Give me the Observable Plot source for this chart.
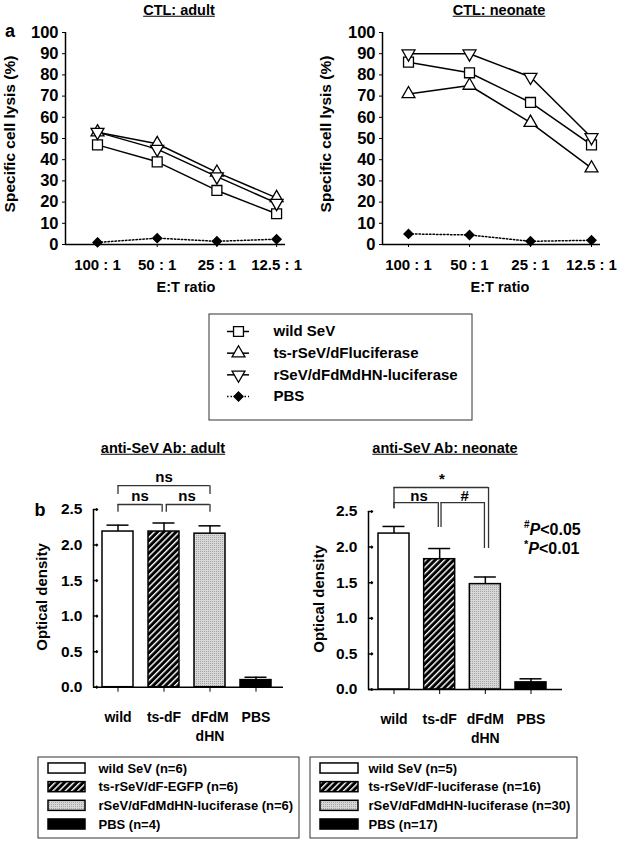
<!DOCTYPE html>
<html><head><meta charset="utf-8">
<script src="https://cdn.jsdelivr.net/npm/d3@7"></script>
<script src="https://cdn.jsdelivr.net/npm/@observablehq/plot@0.6"></script>
<style>
body{margin:0;background:#fff;}
#page{position:relative;width:625px;height:841px;overflow:hidden;font-family:"Liberation Sans",Arial,Helvetica,sans-serif;font-weight:bold;color:#000;background:#fff;}
#page svg{max-width:none;}
</style></head><body>
<svg width="0" height="0" style="position:absolute"><defs>
<pattern id="hatch" width="4.4" height="4.4" patternUnits="userSpaceOnUse" patternTransform="rotate(45)"><rect width="4.4" height="4.4" fill="#000"/><rect width="1.4" height="4.4" fill="#fff"/></pattern>
<pattern id="dots" width="2" height="2" patternUnits="userSpaceOnUse"><rect width="2" height="2" fill="#d8d8d8"/><rect width="1" height="1" fill="#a4a4a4"/></pattern>
</defs></svg>
<div id="page"></div>
<script>
// ---------- data ----------
const ratios = ["100 : 1", "50 : 1", "25 : 1", "12.5 : 1"];
const ctlSeries = ["wild SeV", "ts-rSeV/dFluciferase", "rSeV/dFdMdHN-luciferase", "PBS"];
const ctlTicks = [0, 10, 20, 30, 40, 50, 60, 70, 80, 90, 100];
const adultWild = [47, 39, 25.5, 14.5];
const adultTs = [53, 47.5, 34, 22];
const adultDfdm = [53, 45, 32, 19.5];
const adultPbs = [1, 3, 1.5, 2.5];
const neoWild = [86, 81, 67, 47];
const neoTs = [71, 75, 57.5, 36];
const neoDfdm = [90, 90, 79, 50.5];
const neoPbs = [5, 4.5, 1.5, 2];

const abGroups = ["wild", "ts-dF", "dFdM\ndHN", "PBS"];
const odTicks = [0, 0.5, 1, 1.5, 2, 2.5];
const adultOD = [2.19, 2.19, 2.16, 0.10];
const adultSEM = [0.09, 0.12, 0.11, 0.04];
const neoOD = [2.19, 1.83, 1.48, 0.10];
const neoSEM = [0.10, 0.15, 0.10, 0.05];
const adultLegend = ["wild SeV (n=6)", "ts-rSeV/dF-EGFP (n=6)", "rSeV/dFdMdHN-luciferase (n=6)", "PBS (n=4)"];
const neoLegend = ["wild SeV (n=5)", "ts-rSeV/dF-luciferase (n=16)", "rSeV/dFdMdHN-luciferase (n=30)", "PBS (n=17)"];
// significance brackets (group index span, heights in OD units)
const adultBrackets = [
  {a: 0, b: 2, y: 2.835, da: 2.71, db: 2.71, label: "ns", lx: 1, ly: 2.95},
  {a: 0, b: 0.96, y: 2.57, da: 2.46, db: 2.46, label: "ns", lx: 0.48, ly: 2.69},
  {a: 1.05, b: 2, y: 2.57, da: 2.46, db: 2.46, label: "ns", lx: 1.5, ly: 2.69}
];
const neoBrackets = [
  {a: 0, b: 2.07, y: 2.837, da: 2.54, db: 1.98, label: "*", lx: 1.05, ly: 2.95},
  {a: 0, b: 0.97, y: 2.626, da: 2.54, db: 2.275, label: "ns", lx: 0.55, ly: 2.71},
  {a: 1.03, b: 1.98, y: 2.626, da: 2.275, db: 1.98, label: "#", lx: 1.55, ly: 2.71}
];

// ---------- styles ----------
const FONT = '"Liberation Sans", Arial, Helvetica, sans-serif';
const sqrt3 = Math.sqrt(3);
const triangleDown = {draw(c, size) {
  const y = -Math.sqrt(size / (sqrt3 * 3));
  c.moveTo(0, -y * 2); c.lineTo(-sqrt3 * y, y); c.lineTo(sqrt3 * y, y); c.closePath();
}};
const symbols = ["square", "triangle", triangleDown, "diamond2"];
const symR = [5.6, 4.8, 4.8, 4.1];
const symFill = ["white", "white", "white", "black"];
const barFills = ["white", "url(#hatch)", "url(#dots)", "black"];

const page = document.getElementById("page");
function place(el, L, T) {
  el.style.position = "absolute"; el.style.left = L + "px"; el.style.top = T + "px";
  page.appendChild(el);
}
function txt(html, x, y, o = {}) {
  const d = document.createElement("div");
  d.innerHTML = html;
  const tx = o.start ? "0" : "-50%";
  d.style.cssText = `position:absolute;left:${x}px;top:${y}px;transform:translate(${tx},-50%)${o.rotate ? " rotate(-90deg)" : ""};font-size:${o.size || 15}px;white-space:nowrap;line-height:1;${o.underline ? "text-decoration:underline;" : ""}`;
  page.appendChild(d);
}
const baseStyle = (size) => ({fontFamily: FONT, fontWeight: "bold", fontSize: size + "px", color: "black", background: "transparent", overflow: "visible"});

// ---------- CTL panels ----------
function ctlPanel(L, frameL, frameR, x0, step, seriesValues) {
  const W = frameR - L + 25;
  const dom = [(frameL - x0) / step, (frameR - x0) / step];
  const rows = seriesValues.flatMap((vals, k) => vals.map((v, i) => ({k, i, v})));
  const plot = Plot.plot({
    width: W, height: 300,
    marginLeft: frameL - L, marginRight: W - (frameR - L), marginTop: 32, marginBottom: 56,
    x: {domain: dom, axis: null}, y: {domain: [0, 100], axis: null},
    style: baseStyle(15),
    marks: [
      Plot.axisY({ticks: ctlTicks, tickSize: 3, tickPadding: 4, tickFormat: d => String(d), label: null, fontSize: 16.5}),
      Plot.axisX({ticks: d3.range(ratios.length), tickSize: 3, tickPadding: 12, tickFormat: i => ratios[i], label: null, fontSize: 15}),
      Plot.ruleX([dom[0]], {strokeWidth: 1.5}),
      Plot.ruleY([0], {strokeWidth: 1.5}),
      Plot.line(rows.filter(d => d.k < 3), {x: "i", y: "v", z: "k", stroke: "black", strokeWidth: 1.5}),
      Plot.line(rows.filter(d => d.k === 3), {x: "i", y: "v", stroke: "black", strokeWidth: 1.5, strokeDasharray: "1.5,2"}),
      ...[3, 0, 1, 2].map(k => Plot.dot(rows.filter(d => d.k === k), {x: "i", y: "v", symbol: symbols[k], r: symR[k], fill: symFill[k], stroke: "black", strokeWidth: 1.3}))
    ]
  });
  place(plot, L, 0);
}
ctlPanel(0, 65, 285, 97, 59.7, [adultWild, adultTs, adultDfdm, adultPbs]);
ctlPanel(312, 382, 600, 408, 61, [neoWild, neoTs, neoDfdm, neoPbs]);

txt("CTL: adult", 179, 10, {size: 14.5, underline: true});
txt("CTL: neonate", 499, 10, {size: 14.5, underline: true});
txt("a", 10, 31, {size: 18});
txt("Specific cell lysis (%)", 10, 134, {size: 15.5, rotate: true});
txt("Specific cell lysis (%)", 326, 134, {size: 15.5, rotate: true});
txt("E:T ratio", 186, 287, {size: 14.5});
txt("E:T ratio", 500, 287, {size: 14.5});

// CTL legend
(function () {
  const W = 264, H = 107;
  const rows = ctlSeries.map((name, k) => ({k, name}));
  const plot = Plot.plot({
    width: W, height: H, margin: 0,
    x: {domain: [0, W], axis: null}, y: {domain: [0, 3], range: [18, 83], axis: null},
    style: baseStyle(15),
    marks: [
      Plot.frame({inset: 0.5, stroke: "#333"}),
      Plot.ruleY(rows.filter(d => d.k < 3), {y: "k", x1: 19, x2: 41, strokeWidth: 1.5}),
      Plot.ruleY(rows.filter(d => d.k === 3), {y: "k", x1: 19, x2: 41, strokeWidth: 1.5, strokeDasharray: "1.5,2"}),
      ...[0, 1, 2, 3].map(k => Plot.dot(rows.filter(d => d.k === k), {x: 30, y: "k", symbol: symbols[k], r: symR[k], fill: symFill[k], stroke: "black", strokeWidth: 1.3})),
      Plot.text(rows, {x: 65, y: "k", text: "name", textAnchor: "start", fontSize: 15})
    ]
  });
  place(plot, 208, 313);
})();

// ---------- OD panels ----------
function odPanel(L, T, frameL, frameR, yTop, yZero, x0, step, means, sems, brackets) {
  const W = frameR - L + 20, H = 290;
  const dom = [(frameL - x0) / step, (frameR - x0) / step];
  const hw = 15.5 / step, cap = 11 / step;
  const rows = means.map((v, i) => ({i, v, e: sems[i]}));
  const plot = Plot.plot({
    width: W, height: H,
    marginLeft: frameL - L, marginRight: W - (frameR - L), marginTop: yTop - T, marginBottom: T + H - yZero,
    x: {domain: dom, axis: null}, y: {domain: [0, 2.5], axis: null},
    style: baseStyle(15),
    marks: [
      Plot.axisY({ticks: odTicks, tickSize: 0, tickPadding: 11, tickFormat: d3.format(".1f"), label: null, fontSize: 15.5}),
      Plot.vector(odTicks, {x: dom[0], y: d => d, length: 4, rotate: 90, anchor: "start", strokeWidth: 1.5}),
      Plot.axisX({ticks: d3.range(abGroups.length), tickSize: 5, tickPadding: 16, tickFormat: i => abGroups[i], label: null, fontSize: 14, lineHeight: 1.36}),
      ...rows.map((r, i) => Plot.rect([r], {x1: d => d.i - hw, x2: d => d.i + hw, y1: 0, y2: "v", fill: barFills[i], stroke: "black", strokeWidth: 1.5})),
      Plot.ruleX(rows, {x: "i", y1: "v", y2: d => d.v + d.e, strokeWidth: 1.5}),
      Plot.ruleY(rows, {y: d => d.v + d.e, x1: d => d.i - cap, x2: d => d.i + cap, strokeWidth: 1.5}),
      Plot.ruleX([dom[0]], {strokeWidth: 1.5}),
      Plot.ruleY([0], {strokeWidth: 1.5}),
      Plot.ruleY(brackets, {y: "y", x1: "a", x2: "b", stroke: "#333", strokeWidth: 1.3}),
      Plot.ruleX(brackets, {x: "a", y1: "da", y2: "y", stroke: "#333", strokeWidth: 1.3}),
      Plot.ruleX(brackets, {x: "b", y1: "db", y2: "y", stroke: "#333", strokeWidth: 1.3}),
      Plot.text(brackets, {x: "lx", y: "ly", text: "label", fontSize: 15})
    ]
  });
  place(plot, L, T);
}
odPanel(0, 455, 93, 283, 509, 686.7, 117.5, 46, adultOD, adultSEM, adultBrackets);
odPanel(312, 455, 368, 562, 511, 689, 393.5, 45.67, neoOD, neoSEM, neoBrackets);

txt("anti-SeV Ab: adult", 163, 448, {size: 14.5, underline: true});
txt("anti-SeV Ab: neonate", 445, 448, {size: 14.5, underline: true});
txt("b", 40, 510, {size: 18});
txt("Optical density", 41, 597, {size: 15, rotate: true});
txt("Optical density", 318, 599, {size: 15, rotate: true});
txt('<sup style="font-size:10px">#</sup><i>P</i>&lt;0.05', 524, 529, {size: 16, start: true});
txt('<sup style="font-size:11px">*</sup><i>P</i>&lt;0.01', 524, 548, {size: 16, start: true});

// bar legends
function barLegend(L, T, W, H, labels, sw1, sw2, tx) {
  const rows = labels.map((name, k) => ({k, name}));
  const plot = Plot.plot({
    width: W, height: H, margin: 0,
    x: {domain: [0, W], axis: null}, y: {domain: [0, 3], range: [12, 68], axis: null},
    style: baseStyle(13),
    marks: [
      Plot.frame({inset: 0.5, stroke: "#333"}),
      ...rows.map((r, k) => Plot.rect([r], {x1: sw1, x2: sw2, y1: d => d.k - 0.27, y2: d => d.k + 0.27, fill: barFills[k], stroke: "black", strokeWidth: 1.5})),
      Plot.text(rows, {x: tx, y: "k", text: "name", textAnchor: "start", fontSize: 13})
    ]
  });
  place(plot, L, T);
}
barLegend(37, 756, 262, 82, adultLegend, 11, 48, 61);
barLegend(309, 756, 268, 82, neoLegend, 11, 49, 59);
</script>
</body></html>
